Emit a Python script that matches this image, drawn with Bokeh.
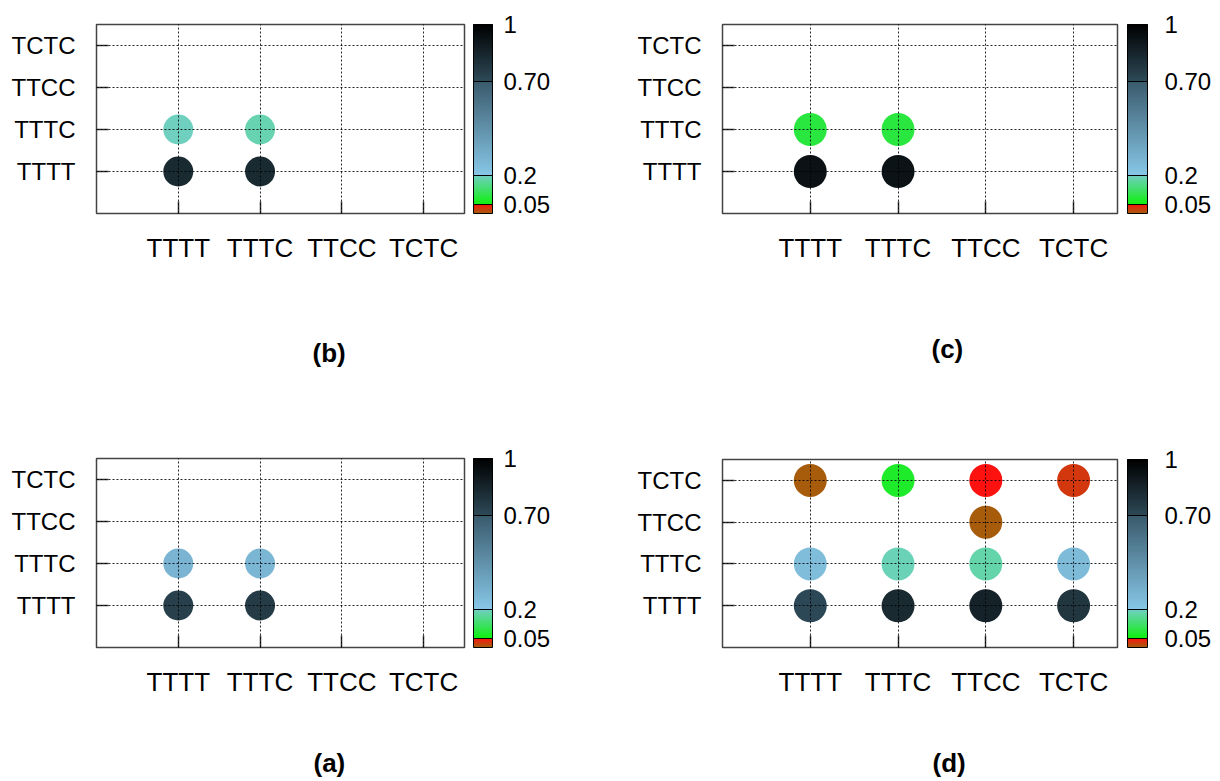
from bokeh.plotting import figure
from bokeh.models import (Range1d, FixedTicker, LinearColorMapper, ColorBar,
                          Title, ColumnDataSource)
from bokeh.layouts import row, column
from bokeh.embed import file_html
from bokeh.resources import INLINE

# ---------------- data ----------------
categories = ["TTTT", "TTTC", "TTCC", "TCTC"]

# panel (b)
b_x = ["TTTT", "TTTC", "TTTT", "TTTC"]
b_y = ["TTTT", "TTTT", "TTTC", "TTTC"]
b_v = [0.83, 0.83, 0.198, 0.185]

# panel (c)
c_x = ["TTTT", "TTTC", "TTTT", "TTTC"]
c_y = ["TTTT", "TTTT", "TTTC", "TTTC"]
c_v = [0.93, 0.92, 0.09, 0.09]

# panel (a)
a_x = ["TTTT", "TTTC", "TTTT", "TTTC"]
a_y = ["TTTT", "TTTT", "TTTC", "TTTC"]
a_v = [0.74, 0.76, 0.29, 0.28]

# panel (d)
d_x = ["TTTT", "TTTC", "TTCC", "TCTC",
       "TTTT", "TTTC", "TTCC", "TCTC",
       "TTCC",
       "TTTT", "TTTC", "TTCC", "TCTC"]
d_y = ["TTTT", "TTTT", "TTTT", "TTTT",
       "TTTC", "TTTC", "TTTC", "TTTC",
       "TTCC",
       "TCTC", "TCTC", "TCTC", "TCTC"]
d_v = [0.71, 0.83, 0.86, 0.78,
       0.25, 0.19, 0.18, 0.26,
       0.004,
       0.004, 0.07, 0.049, 0.025]

cbar_ticks = [0.05, 0.2, 0.7, 1.0]
cbar_labels = ["0.05", "0.2", "0.70", "1"]

# ---------------- colour palette (style) ----------------
segments = [
    (0.0, 0.05, "#a0620c", "#ff1010"),
    (0.05, 0.2, "#10f010", "#70d0c0"),
    (0.2, 0.7, "#88c8e8", "#3a5a6c"),
    (0.7, 1.0, "#2e4a58", "#000000"),
]


def _hex(c):
    return [int(c[i:i + 2], 16) for i in (1, 3, 5)]


N = 400
palette = []
for i in range(N):
    t = (i + 0.5) / N
    for lo, hi, c0, c1 in segments:
        if lo <= t <= hi:
            f = (t - lo) / (hi - lo)
            a, b = _hex(c0), _hex(c1)
            rgb = [round(a[k] + f * (b[k] - a[k])) for k in range(3)]
            palette.append("#%02x%02x%02x" % tuple(rgb))
            break

FONT = "Liberation Sans"


def make_panel(xs, ys, vs, caption, frame_w, frame_h, left, top, total_w,
               bottom, dot, cb_gap, cb_w, cb_standoff, cap_off, cap_gap):
    mapper = LinearColorMapper(palette=palette, low=0, high=1)
    p = figure(frame_width=frame_w, frame_height=frame_h,
               x_range=Range1d(-1, 3.5), y_range=Range1d(-1, 3.5),
               output_backend="svg", toolbar_location=None,
               min_border_left=left, min_border_top=top,
               min_border_right=total_w - left - frame_w,
               min_border_bottom=bottom)
    src = ColumnDataSource(dict(
        x=[categories.index(c) for c in xs],
        y=[categories.index(c) for c in ys],
        v=vs))
    p.scatter("x", "y", source=src, marker="circle", size=dot,
              fill_color={"field": "v", "transform": mapper}, line_color=None)

    overrides = {i: c for i, c in enumerate(categories)}
    for ax in (p.xaxis[0], p.yaxis[0]):
        ax.ticker = FixedTicker(ticks=list(range(len(categories))))
        ax.major_label_overrides = overrides
        ax.axis_line_color = None
        ax.major_tick_in = 12
        ax.major_tick_out = 0
        ax.major_tick_line_color = "#333333"
        ax.major_tick_line_width = 1.5
        ax.minor_tick_line_color = None
        ax.major_label_text_font = FONT
        ax.major_label_text_color = "black"
    p.xaxis.major_label_text_font_size = "26px"
    p.yaxis.major_label_text_font_size = "24px"
    p.xaxis.major_label_standoff = 19
    p.yaxis.major_label_standoff = 21

    p.grid.grid_line_color = "black"
    p.grid.grid_line_dash = "2 2"
    p.grid.grid_line_alpha = 0.85
    p.grid.grid_line_width = 1
    p.grid.level = "annotation"
    p.xgrid.ticker = FixedTicker(ticks=list(range(len(categories))))
    p.ygrid.ticker = FixedTicker(ticks=list(range(len(categories))))

    p.outline_line_color = "#444444"
    p.outline_line_width = 1.5
    p.background_fill_color = "white"
    p.border_fill_color = "white"

    cb = ColorBar(color_mapper=mapper,
                  ticker=FixedTicker(ticks=cbar_ticks),
                  major_label_overrides=dict(zip(cbar_ticks, cbar_labels)),
                  width=cb_w, height=frame_h, location=(cb_gap, 0),
                  margin=0, padding=0, label_standoff=cb_standoff,
                  major_tick_in=cb_w, major_tick_out=0,
                  major_tick_line_color="black", major_tick_line_width=1,
                  minor_tick_line_color=None,
                  bar_line_color="black", bar_line_width=1,
                  border_line_color=None, background_fill_color=None,
                  major_label_text_font=FONT,
                  major_label_text_font_size="24px",
                  major_label_text_color="black")
    p.add_layout(cb, "right")

    # blank spacer between the tick labels and the caption
    p.add_layout(Title(text=" ", standoff=cap_gap, text_font_size="2px"),
                 "below")
    p.add_layout(Title(text=caption, align="left", offset=cap_off,
                       standoff=0, text_font=FONT,
                       text_font_style="bold", text_font_size="26px",
                       text_color="black"), "below")
    return p


pb = make_panel(b_x, b_y, b_v, "(b)", 368, 189, 96, 24, 608, 225, 30,
                9, 19, 11, 216, 66)
pa = make_panel(a_x, a_y, a_v, "(a)", 368, 189, 96, 20, 608, 120, 30,
                9, 19, 11, 217, 42)
pc = make_panel(c_x, c_y, c_v, "(c)", 395, 189, 114, 24, 610, 225, 33,
                10, 20, 17, 209, 62)
pd = make_panel(d_x, d_y, d_v, "(d)", 395, 188, 114, 21, 610, 120, 33,
                10, 20, 17, 210, 42)

layout = row(column(pb, pa, spacing=0), column(pc, pd, spacing=0), spacing=0)

open("out.html", "w").write(file_html(layout, INLINE))
